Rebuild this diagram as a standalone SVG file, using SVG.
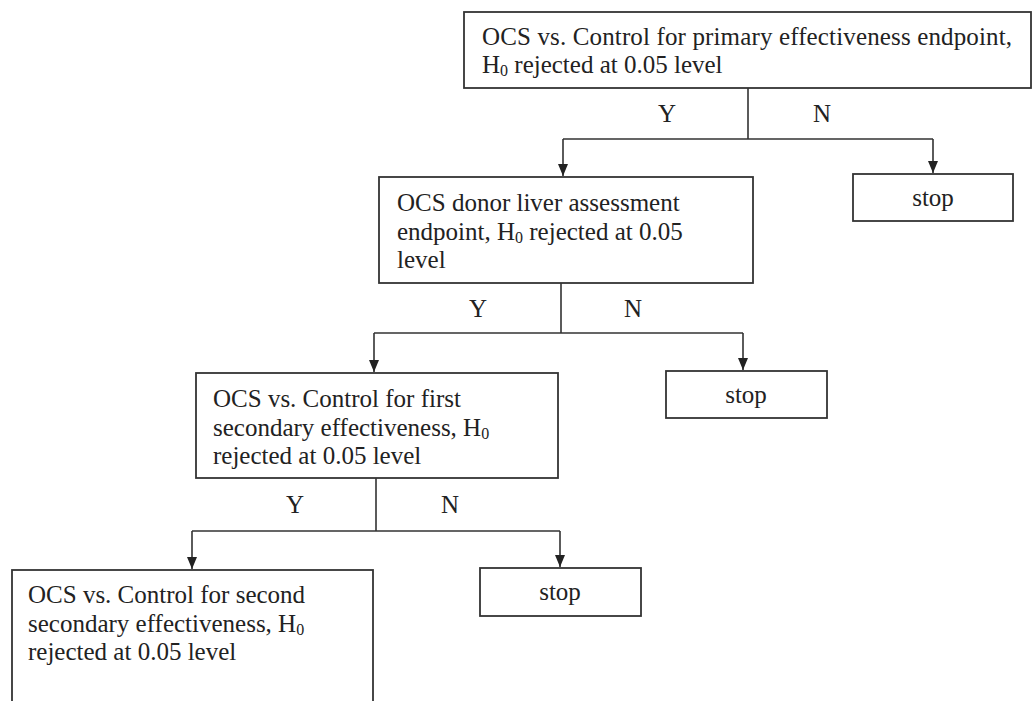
<svg xmlns="http://www.w3.org/2000/svg" width="1035" height="701" viewBox="0 0 1035 701">
<style>
.box{fill:#fff;stroke:#333;stroke-width:1.8}
.t{font-family:"Liberation Serif","Times New Roman",serif;font-size:25px;fill:#222}
.c{text-anchor:middle}
.sub{font-size:16px}
.ln{fill:none;stroke:#333;stroke-width:1.6}
</style>
<defs>
<marker id="ah" viewBox="0 0 12 10" refX="12" refY="5" markerWidth="12" markerHeight="10" markerUnits="userSpaceOnUse" orient="auto">
<path d="M0,0 L12,5 L0,10 Z" fill="#222"/>
</marker>
</defs>
<rect width="1035" height="701" fill="#fff"/>
<g id="connectors">
<path class="ln" d="M748,88 V139 M563,139 H933"/>
<path class="ln" d="M563,139 V176" marker-end="url(#ah)"/>
<path class="ln" d="M933,139 V173" marker-end="url(#ah)"/>
<path class="ln" d="M561,283 V333 M374,333 H743"/>
<path class="ln" d="M374,333 V372" marker-end="url(#ah)"/>
<path class="ln" d="M743,333 V370" marker-end="url(#ah)"/>
<path class="ln" d="M376,478 V531 M192,531 H560"/>
<path class="ln" d="M192,531 V569" marker-end="url(#ah)"/>
<path class="ln" d="M560,531 V567" marker-end="url(#ah)"/>
<text class="t c" x="667" y="122">Y</text>
<text class="t c" x="822" y="122">N</text>
<text class="t c" x="478" y="317">Y</text>
<text class="t c" x="633" y="317">N</text>
<text class="t c" x="295" y="513">Y</text>
<text class="t c" x="450" y="513">N</text>
</g>
<g id="n1">
<rect class="box" x="464" y="12" width="567" height="76"/>
<text class="t" x="482" y="45" textLength="530" lengthAdjust="spacing">OCS vs. Control for primary effectiveness endpoint,</text>
<text class="t" x="482" y="73">H<tspan class="sub" dy="3">0</tspan><tspan dy="-3"> rejected at 0.05 level</tspan></text>
</g>
<g id="stop1">
<rect class="box" x="853" y="174" width="160" height="47"/>
<text class="t c" x="933" y="206">stop</text>
</g>
<g id="n2">
<rect class="box" x="379" y="177" width="374" height="106"/>
<text class="t" x="397" y="211">OCS donor liver assessment</text>
<text class="t" x="397" y="240">endpoint, H<tspan class="sub" dy="3">0</tspan><tspan dy="-3"> rejected at 0.05</tspan></text>
<text class="t" x="397" y="268">level</text>
</g>
<g id="stop2">
<rect class="box" x="666" y="371" width="161" height="47"/>
<text class="t c" x="746" y="403">stop</text>
</g>
<g id="n3">
<rect class="box" x="196" y="373" width="362" height="105"/>
<text class="t" x="213" y="407">OCS vs. Control for first</text>
<text class="t" x="213" y="436">secondary effectiveness, H<tspan class="sub" dy="3">0</tspan></text>
<text class="t" x="213" y="464">rejected at 0.05 level</text>
</g>
<g id="stop3">
<rect class="box" x="480" y="568" width="161" height="48"/>
<text class="t c" x="560" y="600">stop</text>
</g>
<g id="n4">
<rect class="box" x="12" y="570" width="361" height="150"/>
<text class="t" x="28" y="603">OCS vs. Control for second</text>
<text class="t" x="28" y="632">secondary effectiveness, H<tspan class="sub" dy="3">0</tspan></text>
<text class="t" x="28" y="660">rejected at 0.05 level</text>
</g>
</svg>
